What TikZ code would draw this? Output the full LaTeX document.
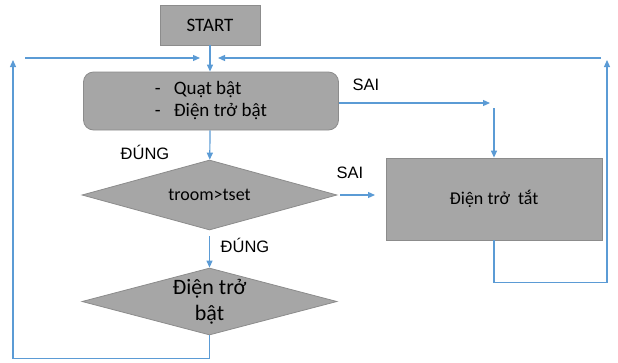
\documentclass[tikz,border=0pt]{standalone}
\usepackage{fontspec}
\setmainfont{Carlito}
\newfontfamily\labelfont{Liberation Sans}
\usetikzlibrary{shapes.geometric,arrows.meta}

\definecolor{flowgray}{RGB}{166,166,166}
\definecolor{flowedge}{RGB}{140,140,140}
\definecolor{flowblue}{RGB}{91,155,213}

\tikzset{
  box/.style={draw=flowedge, fill=flowgray, line width=0.8pt, inner sep=0pt},
  decision/.style={box, diamond, aspect=3.6},
  flow/.style={draw=flowblue, line width=1.2pt, -{Triangle[length=7pt,width=6pt]}},
  tag/.style={font=\labelfont\fontsize{16.5}{20}\selectfont}
}
\newcommand{\bul}{-\hspace{13pt}}

\begin{document}
\begin{tikzpicture}[x=1pt, y=-1pt, font=\fontsize{19}{22}\selectfont]
  \useasboundingbox (0,0) rectangle (618,362);

  % ---- blocks ----
  \node[box, minimum width=100, minimum height=40] (start) at (210,25) {START};
  \node[box, rounded corners=10pt, minimum width=255, minimum height=58, align=left]
    (on) at (211,101) {\bul Quạt bật\\\bul Điện trở bật};
  \node[decision, minimum width=255, minimum height=70,
        font=\fontsize{18}{22}\selectfont] (cmp) at (209.5,195) {troom>tset};
  \node[decision, minimum width=255, minimum height=67, align=center,
        font=\fontsize{22}{26}\selectfont] (heat) at (209.5,301.5) {Điện trở\\bật};
  \node[box, minimum width=216, minimum height=82, font=\fontsize{18}{22}\selectfont]
    (off) at (494,199) {Điện trở\ \ tắt};

  % ---- helper points ----
  \coordinate (leftup) at (13,60);
  \coordinate (rightup) at (607,60);
  \coordinate (lin) at (25,58);
  \coordinate (lend) at (200,58);
  \coordinate (rin) at (601,58);
  \coordinate (rend) at (218,58);
  \coordinate (sai1) at (490,103);
  \coordinate (drop) at (494,108);
  \coordinate (sai2) at (375,195);

  % ---- connectors ----
  \draw[flow] (start) -- (start |- on.north);
  \draw[flow] (start |- on.south) -- (cmp);
  \draw[flow, shorten <=6pt] (cmp) -- (heat);
  \draw[flow] (on.east |- sai1) -- (sai1);
  \draw[flow] (drop) -- (off.north -| drop);
  \draw[flow, shorten <=3pt] (cmp.east) -- (sai2);

  % vòng quay lại bên trái
  \draw[flow] (heat.south) -- ++(0,23) -| (leftup);
  \draw[flow] (lin) -- (lend);
  % vòng quay lại bên phải
  \draw[flow] (off.south) -- ++(0,42) -| (rightup);
  \draw[flow] (rin) -- (rend);

  % ---- labels ----
  \node[tag] (saitop) at (366,85) {SAI};
  \node[tag] (saimid) at (350,173) {SAI};
  \node[tag] (yes1) at (145,152) {ĐÚNG};
  \node[tag] (yes2) at (245,245) {ĐÚNG};
\end{tikzpicture}
\end{document}
